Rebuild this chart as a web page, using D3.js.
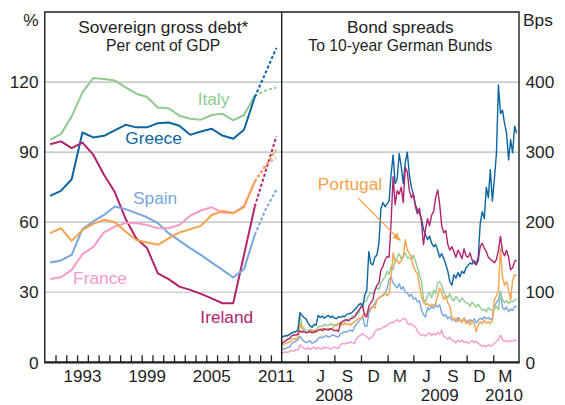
<!DOCTYPE html>
<html><head><meta charset="utf-8">
<script src="https://cdn.jsdelivr.net/npm/d3@7/dist/d3.min.js"></script>
<style>
html,body{margin:0;padding:0;background:#fff}
svg{display:block;font-family:"Liberation Sans",Arial,Helvetica,sans-serif}
</style>
</head><body>
<svg id="chart" width="565" height="405"></svg>
<script>
// ---------- Left panel: sovereign gross debt, % of GDP (1990-2011; 2010-11 forecast) ----------
const debtYears = d3.range(1990, 2012);
const lastActualYear = 2009;
const debtItaly    = [95.3,97.7,105.3,115.6,121.7,121.3,120.7,117.7,115,113.6,109.1,108.8,105.6,104.3,103.9,105.9,106.4,103.6,105.9,114.1,116.4,117.7];
const debtGreece   = [71.3,73.4,78.4,98.4,96.3,97,99.3,101.7,100.6,100.6,102.4,102.7,101.3,97.4,98.8,100,97.1,95.7,99.6,113.6,123.9,134.6];
const debtIreland  = [93.4,94.6,91.7,94.1,88.9,80.3,72.9,61.5,53,48.9,38.1,35.6,32.4,31,29.3,27.4,25.3,25.3,46,66.7,81.7,96.7];
const debtSpain    = [42.7,43.6,46,57,60.3,63.1,66.7,65.6,63.9,62.1,59.6,55.3,52.1,48.9,46,42.7,39.6,36.3,39.9,54.6,65.3,73.9];
const debtFrance   = [35.7,36.4,39.6,46.3,49.3,55.6,58.1,59.6,59.6,58.8,57.4,57.4,58.8,62.8,65,66.4,64.1,63.9,67,77.4,84.6,87.6];
const debtPortugal = [55.3,57.4,52,56.7,59.3,61,60,56,52.4,51.3,50.3,53.1,55.6,57,58.4,63.1,64.8,63.9,66.4,77.4,83.9,91];

const debtTicks = [0,30,60,90,120];
const debtYearLabels = [1993,1999,2005,2011];

// ---------- Right panel: bond spreads to 10-year German Bunds, bps (weekly) ----------
const spreadStart = "2008-02-01";
const spreadGreece = [36,37,38,38,40, 42,43,44,46,71, 67,64,62,56,52, 50,54,53,67,64, 66,63,65,67,64, 66,63,62,65,64,
  66,65,68,69,70, 72,75,78,82,84, 80,96,103,158,141, 139,150,153,170,220, 228,222,226,230,268, 296,255,262,298,280,
  255,285,300,268,250, 240,225,218,213,205, 190,182,175,180,170, 165,168,160,150,155, 148,140,130,115,110, 125,120,128,122,130,
  127,135,138,142,140, 145,140,150,198,215, 205,250,235,275,230, 262,298,396,355,360, 341,327,289,318,299, 337,327];
const spreadIreland = [27,29,31,33,34, 38,39,39,40,45, 43,44,42,43,44, 42,43,44,46,47, 45,48,47,46,48, 47,45,46,44,56,
  58,60,61,59,62, 63,65,70,74,78, 80,66,65,80,85, 89,103,110,113,132, 137,146,151,150,200, 265,225,245,240,250,
  228,278,272,245,235, 240,222,212,220,200, 168,190,205,195,210, 215,235,246,225,195, 185,188,168,160,165, 158,150,160,155,148,
  162,152,150,156,146, 142,139,145,165,170, 163,158,150,147,145, 142,147,160,180,158, 152,160,150,132,135, 144,146];
const spreadItaly = [36,37,38,39,40, 42,43,43,44,68, 52,48,46,45,47, 46,44,47,50,52, 51,54,53,52,55, 54,53,52,55,56,
  54,56,60,62,63, 66,65,68,70,80, 84,86,89,96,100, 98,103,106,104,113, 118,122,130,125,137, 132,146,150,155,148,
  152,156,149,150,146, 153,145,135,125,115, 90,86,95,100,92, 103,98,113,115,110, 100,95,92,98,90, 88,94,90,86,92,
  88,85,84,80,86, 82,79,83,78,74, 76,72,78,75,74, 76,80,75,99,90, 85,88,84,87,86, 89,90];
const spreadPortugal = [25,26,27,28,29, 32,34,33,35,56, 48,44,43,42,45, 44,46,43,46,47, 48,46,47,48,47, 48,53,54,55,53,
  54,55,54,55,53, 56,58,60,63,62, 67,70,68,75,78, 80,77,89,92,94, 96,99,95,98,120, 156,143,146,141,145,
  150,175,160,155,152, 137,130,127,110,94, 86,82,84,80,83, 81,84,95,106,100, 90,94,85,80,65, 60,63,58,62,57,
  63,55,60,53,58, 56,44,53,58,55, 60,56,58,55,60, 89,95,103,163,122, 110,115,103,89,117, 125,123];
const spreadSpain = [18,19,20,21,22, 27,29,30,32,37, 33,30,28,29,31, 27,29,30,34,36, 35,37,38,36,37, 39,38,37,36,41,
  42,44,43,45,46, 44,51,55,58,62, 65,52,51,70,76, 80,84,89,92,94, 95,98,105,118,122, 113,110,106,112,104,
  108,100,99,94,97, 90,92,86,88,75, 68,65,78,75,80, 77,82,79,82,70, 66,68,62,65,60, 62,58,64,60,57,
  63,59,56,61,58, 62,56,60,63,61, 65,62,64,61,63, 80,85,89,101,78, 75,79,72,76,74, 80,79];
const spreadFrance = [13,14,15,14,16, 17,16,18,17,25, 22,20,19,21,18, 20,22,19,21,20, 19,22,20,21,19, 20,22,21,20,25,
  27,26,28,27,29, 28,27,34,37,39, 41,38,37,33,35, 37,44,46,48,47, 50,51,53,55,57, 56,59,61,58,60,
  62,63,56,54,55, 52,51,44,41,38, 40,37,40,42,38, 41,39,43,40,46, 37,35,33,36,32, 30,28,31,29,32,
  28,30,27,29,31, 28,30,27,25,23, 24,22,25,23,24, 27,30,32,39,32, 30,31,29,31,30, 32,31];

const spreadTicks = [0,100,200,300,400];
const quarterTickDates = ["2008-05-01","2008-08-01","2008-11-01","2009-02-01","2009-05-01","2009-08-01","2009-11-01","2010-02-01"];
const monthLabelDates = ["2008-06-15","2008-09-15","2008-12-15","2009-03-15","2009-06-15","2009-09-15","2009-12-15","2010-03-15"];
const monthLabelText  = ["J","S","D","M","J","S","D","M"];
const yearLabelDates  = ["2008-07-31","2009-07-31","2010-03-10"];
const yearLabelText   = ["2008","2009","2010"];

// ---------- Styles ----------
const colors = {Italy:"#8fcb8f", Greece:"#0b65a0", Ireland:"#b2236e", Spain:"#77a6dc", France:"#f49bc6", Portugal:"#f5a24c"};
const ink = "#1e1e1e", gridC = "#b4bcbc";

const svg = d3.select("#chart");
const L = 44.75, M = 281.7, R = 519, T = 12, B = 362.3;
const parse = d3.timeParse("%Y-%m-%d");

const xDebt = d3.scaleLinear().domain([1990, 2012]).range([L, M]);
const yDebt = d3.scaleLinear().domain([0, 150]).range([B, T]);
const xBond = d3.scaleTime().domain([parse("2008-02-01"), parse("2010-05-01")]).range([M, R]);
const yBond = d3.scaleLinear().domain([0, 500]).range([B, T]);

// gridlines
const gl = svg.append("g");
debtTicks.filter(v => v > 0).forEach(v => {
  gl.append("line").attr("x1", L).attr("x2", M).attr("y1", yDebt(v)).attr("y2", yDebt(v))
    .attr("stroke", gridC).attr("stroke-width", 1.2);
});
spreadTicks.filter(v => v > 0).forEach(v => {
  gl.append("line").attr("x1", M).attr("x2", R).attr("y1", yBond(v)).attr("y2", yBond(v))
    .attr("stroke", gridC).attr("stroke-width", 1.2);
});

// clip paths
const defs = svg.append("defs");
defs.append("clipPath").attr("id","clipL").append("rect").attr("x",L).attr("y",T).attr("width",M-L).attr("height",B-T);
defs.append("clipPath").attr("id","clipR").append("rect").attr("x",M).attr("y",T).attr("width",R-M).attr("height",B-T);

// ---------- Left panel lines ----------
const debtSeries = [
  ["Italy", debtItaly], ["Greece", debtGreece], ["Ireland", debtIreland],
  ["Spain", debtSpain], ["France", debtFrance], ["Portugal", debtPortugal]
];
const cut = debtYears.indexOf(lastActualYear);
const debtLine = d3.line().x(d => xDebt(d.year + 0.5)).y(d => yDebt(d.v));
const gLeft = svg.append("g").attr("clip-path","url(#clipL)");
debtSeries.forEach(([name, vals]) => {
  const pts = vals.map((v, i) => ({year: debtYears[i], v}));
  gLeft.append("path").attr("d", debtLine(pts.slice(0, cut + 1)))
    .attr("fill","none").attr("stroke", colors[name]).attr("stroke-width", 2).attr("stroke-linejoin","round");
  gLeft.append("path").attr("d", debtLine(pts.slice(cut)))
    .attr("fill","none").attr("stroke", colors[name]).attr("stroke-width", 2).attr("stroke-dasharray","3,2.2");
});

// ---------- Right panel lines ----------
const start = parse(spreadStart);
const spreadSeries = [
  ["France", spreadFrance], ["Spain", spreadSpain], ["Italy", spreadItaly],
  ["Portugal", spreadPortugal], ["Greece", spreadGreece], ["Ireland", spreadIreland]
];
const bondLine = d3.line().x(d => xBond(d.date)).y(d => yBond(d.v));
const gRight = svg.append("g").attr("clip-path","url(#clipR)");
spreadSeries.forEach(([name, vals]) => {
  const pts = vals.map((v, i) => ({date: d3.timeDay.offset(start, 7 * i), v}));
  gRight.append("path").attr("d", bondLine(pts))
    .attr("fill","none").attr("stroke", colors[name]).attr("stroke-width", 1.4).attr("stroke-linejoin","round");
});

// ---------- Frame and axes ----------
const frame = svg.append("g").attr("stroke", ink).attr("fill","none");
frame.append("path").attr("d", `M${L},${B}V${T}H${R}V${B}`).attr("stroke-width", 1.4);
frame.append("line").attr("x1", M).attr("x2", M).attr("y1", T).attr("y2", B).attr("stroke-width", 1.4);

const axL = d3.axisBottom(xDebt).tickValues(d3.range(1991, 2012)).tickSize(-7).tickFormat("");
const gAxL = svg.append("g").attr("transform", `translate(0,${B})`).call(axL);
const axR = d3.axisBottom(xBond).tickValues(quarterTickDates.map(parse)).tickSize(-7).tickFormat("");
const gAxR = svg.append("g").attr("transform", `translate(0,${B})`).call(axR);
[gAxL, gAxR].forEach(g => {
  g.select(".domain").remove();
  g.selectAll(".tick line").attr("stroke", ink).attr("stroke-width", 1.3);
});
svg.append("line").attr("x1", L - 0.7).attr("x2", R + 0.7).attr("y1", B).attr("y2", B)
  .attr("stroke", ink).attr("stroke-width", 2.2);

// ---------- Texts ----------
const fs = 17.3, fsX = 17;
const txt = svg.append("g").attr("fill", ink).attr("font-size", fs);
debtTicks.forEach(v => {
  txt.append("text").attr("x", 38.5).attr("y", yDebt(v)).attr("dy","0.36em").attr("text-anchor","end").text(v);
});
spreadTicks.forEach(v => {
  txt.append("text").attr("x", 525.5).attr("y", yBond(v)).attr("dy","0.36em").text(v);
});
txt.append("text").attr("x", 38.5).attr("y", 25.5).attr("text-anchor","end").text("%");
txt.append("text").attr("x", 523).attr("y", 25.5).text("Bps");

debtYearLabels.forEach(y => {
  txt.append("text").attr("x", xDebt(y + 0.5)).attr("y", 382).attr("font-size", fsX).attr("text-anchor","middle").text(y);
});
monthLabelDates.forEach((d, i) => {
  txt.append("text").attr("x", xBond(parse(d))).attr("y", 381.8).attr("font-size", fsX).attr("text-anchor","middle").text(monthLabelText[i]);
});
yearLabelDates.forEach((d, i) => {
  txt.append("text").attr("x", xBond(parse(d))).attr("y", 401.2).attr("font-size", fsX).attr("text-anchor","middle").text(yearLabelText[i]);
});

// titles
txt.append("text").attr("x", (L + M) / 2).attr("y", 33).attr("text-anchor","middle").text("Sovereign gross debt*");
txt.append("text").attr("x", (L + M) / 2).attr("y", 50.5).attr("text-anchor","middle").attr("font-size", 15.7).text("Per cent of GDP");
txt.append("text").attr("x", (M + R) / 2).attr("y", 33).attr("text-anchor","middle").text("Bond spreads");
txt.append("text").attr("x", (M + R) / 2).attr("y", 50.5).attr("text-anchor","middle").attr("font-size", 15.7).text("To 10-year German Bunds");

// series labels (positions in data units)
const debtLabels = [
  ["Italy", 2005.67, 110.2], ["Greece", 2000.1, 93.3], ["Spain", 2000.25, 67.8],
  ["France", 1995.13, 33.6], ["Ireland", 2006.9, 16.9]
];
debtLabels.forEach(([name, yr, v]) => {
  svg.append("text").attr("x", xDebt(yr)).attr("y", yDebt(v)).attr("text-anchor","middle")
    .attr("font-size", fs).attr("fill", colors[name]).text(name);
});
// Portugal annotation with arrow
const portLabel = {date:"2008-09-24", v:245.5};
const arrowFrom = {date:"2008-10-22", v:234.5};
const arrowTo   = {date:"2009-03-16", v:174};
svg.append("text").attr("x", xBond(parse(portLabel.date))).attr("y", yBond(portLabel.v)).attr("text-anchor","middle")
  .attr("font-size", fs).attr("fill", colors.Portugal).text("Portugal");
defs.append("marker").attr("id","arr").attr("viewBox","0 0 10 10").attr("refX",9).attr("refY",5)
  .attr("markerWidth",7).attr("markerHeight",7).attr("orient","auto")
  .append("path").attr("d","M0,1L10,5L0,9z").attr("fill", colors.Portugal);
svg.append("line")
  .attr("x1", xBond(parse(arrowFrom.date))).attr("y1", yBond(arrowFrom.v))
  .attr("x2", xBond(parse(arrowTo.date))).attr("y2", yBond(arrowTo.v))
  .attr("stroke", colors.Portugal).attr("stroke-width", 1.2).attr("marker-end","url(#arr)");
</script>
</body></html>
